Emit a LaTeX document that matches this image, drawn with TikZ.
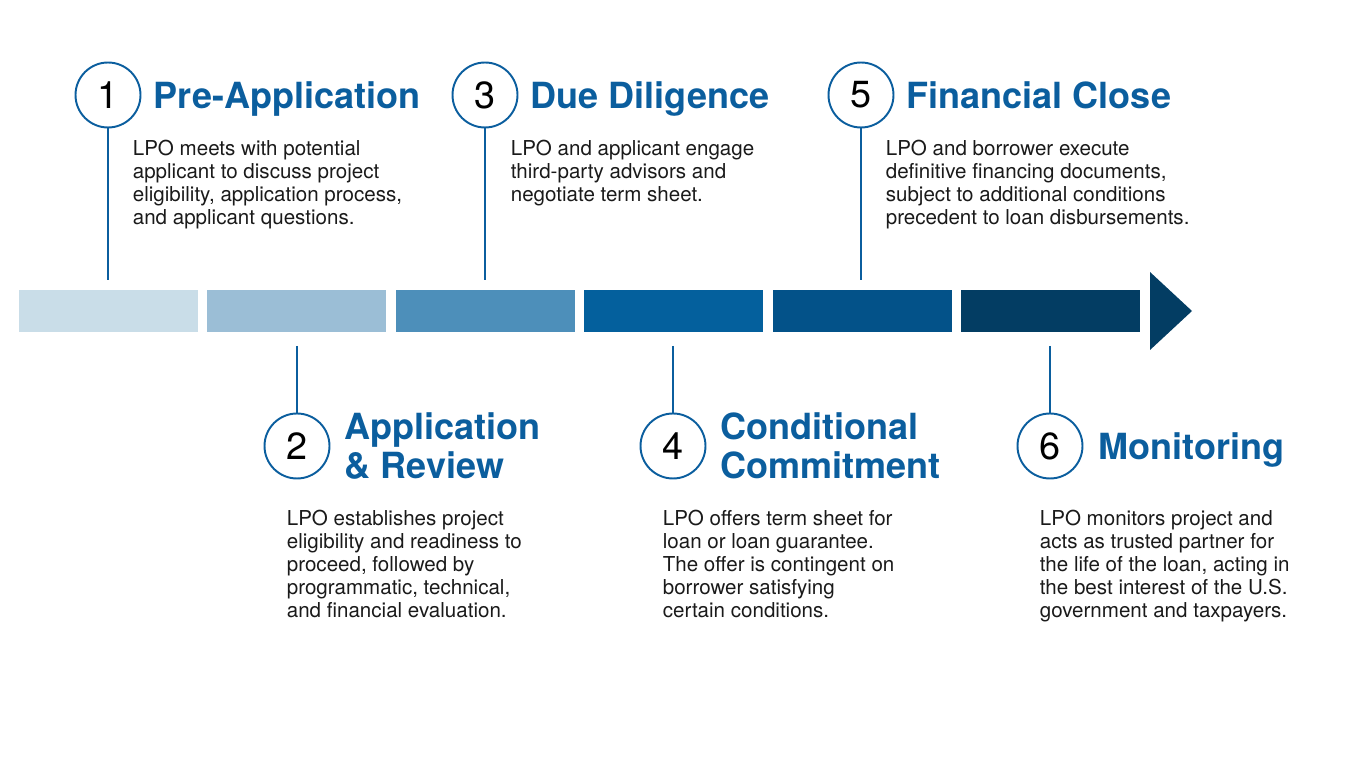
\documentclass[tikz,border=0pt]{standalone}
\usepackage{fontspec}
\setmainfont{TeX Gyre Heros}
\usepackage{xcolor}
\usepackage{tikz}
\usetikzlibrary{positioning}

\definecolor{lpoblue}{HTML}{0B5E9E}
\definecolor{lpotext}{HTML}{1A1A1A}
\definecolor{barA}{HTML}{C9DDE8}
\definecolor{barB}{HTML}{9BBED6}
\definecolor{barC}{HTML}{4D8FBA}
\definecolor{barD}{HTML}{04609D}
\definecolor{barE}{HTML}{035289}
\definecolor{barF}{HTML}{033D63}

\begin{document}
\begin{tikzpicture}[x=0.02cm, y=-0.02cm,
    stepnum/.style={draw=lpoblue, line width=1.1pt, circle, minimum size=1.3cm, inner sep=0pt,
        font=\fontsize{21.5}{21.5}\selectfont, text=black},
    stagetitle/.style={font=\fontsize{20.5}{22.1}\selectfont\bfseries, text=lpoblue,
        inner sep=0pt, text depth=0pt, align=left},
    stagetext/.style={font=\fontsize{11.7}{13.05}\selectfont, text=lpotext,
        inner sep=0pt, align=left, anchor=north west},
    tick/.style={draw=lpoblue, line width=1.1pt}]
    \useasboundingbox (0,0) rectangle (1350,759);

    % the bar
    \foreach \i/\col in {0/barA, 1/barB, 2/barC, 3/barD, 4/barE, 5/barF}
        \fill[\col] (19+188.4*\i,290) rectangle ++(179,42);
    \fill[barF] (1150,272) -- (1192,311) -- (1150,350) -- cycle;

    % upper stages
    \node (c1) [stepnum] at (108,95) {1};
    \node (t1) [stagetitle, right=0.24cm of c1] {Pre-Application};
    \node (d1) [stagetext] at (132.5,140) {LPO meets with potential\\applicant to discuss project\\eligibility, application process,\\and applicant questions.};

    \node (c3) [stepnum] at (485,95) {3};
    \node (t3) [stagetitle, right=0.24cm of c3] {Due Diligence};
    \node (d3) [stagetext] at (510.5,140) {LPO and applicant engage\\third-party advisors and\\negotiate term sheet.};

    \node (c5) [stepnum] at (861,95) {5};
    \node (t5) [stagetitle, right=0.24cm of c5] {Financial Close};
    \node (d5) [stagetext] at (885.5,140) {LPO and borrower execute\\definitive financing documents,\\subject to additional conditions\\precedent to loan disbursements.};

    % lower stages
    \node (c2) [stepnum] at (297,446) {2};
    \node (t2) [stagetitle, right=0.28cm of c2] {Application\\\& Review};
    \node (d2) [stagetext] at (286.5,510) {LPO establishes project\\eligibility and readiness to\\proceed, followed by\\programmatic, technical,\\and financial evaluation.};

    \node (c4) [stepnum] at (673,446) {4};
    \node (t4) [stagetitle, right=0.28cm of c4] {Conditional\\Commitment};
    \node (d4) [stagetext] at (662.5,510) {LPO offers term sheet for\\loan or loan guarantee.\\The offer is contingent on\\borrower satisfying\\certain conditions.};

    \node (c6) [stepnum] at (1050,446) {6};
    \node (t6) [stagetitle, right=0.3cm of c6] {Monitoring};
    \node (d6) [stagetext] at (1039.5,510) {LPO monitors project and\\acts as trusted partner for\\the life of the loan, acting in\\the best interest of the U.S.\\government and taxpayers.};

    % ticks to the bar
    \coordinate (b1) at (108,280);
    \coordinate (b3) at (485,280);
    \coordinate (b5) at (861,280);
    \coordinate (b2) at (297,346);
    \coordinate (b4) at (673,346);
    \coordinate (b6) at (1050,346);
    \draw[tick] (c1) -- (b1);
    \draw[tick] (c3) -- (b3);
    \draw[tick] (c5) -- (b5);
    \draw[tick] (b2) -- (c2);
    \draw[tick] (b4) -- (c4);
    \draw[tick] (b6) -- (c6);
\end{tikzpicture}
\end{document}
